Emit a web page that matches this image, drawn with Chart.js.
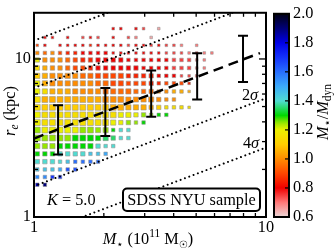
<!DOCTYPE html>
<html><head><meta charset="utf-8">
<script src="https://cdn.jsdelivr.net/npm/chart.js@4.4.1/dist/chart.umd.min.js"></script>
<style>
html,body{margin:0;padding:0;background:#fff;overflow:hidden}
#wrap{position:relative;width:334px;height:250px;background:#fff}
#wrap canvas{position:absolute;left:0;top:0}
</style></head><body>
<div id="wrap"><canvas id="main" width="334" height="250"></canvas><canvas id="cbar" width="334" height="250"></canvas></div>
<script>
// ---------------- data ----------------
// grid columns: stellar mass (1e11 Msun)
const colMass = [1.033,1.114,1.201,1.295,1.397,1.506,1.624,1.751,1.888,2.036,2.195,2.367,2.552,2.751,2.967,3.199,3.449,3.719,4.010,4.323,4.662,5.026,5.420,5.844,6.301];
// grid rows: effective radius (kpc), top to bottom
const rowRadius = [15.56,13.68,12.2,10.92,9.86,8.77,7.82,7.01,6.23,5.54,4.94,4.43,3.96,3.55,3.16,2.81,2.51,2.24,2.00,1.79,1.60];
// M*/Mdyn code: index in this string -> 0.60 + 0.05*index ; '.' = empty cell
const ratioCodes = "0123456789ABCDEFGHIJKLMNOPQRS";
const ratioRows = [
  ".......... 44.43.1",
  ".44.4.343.4.32.1",
  "64.4444544 4434434332 .2",
  "878655 44444444444 3332322",
  "C8887655 4444444444 333 22",
  "B9887665 4444444444 333 22",
  "A9888877 66665555 444 333",
  "C9888888 77666665 5666 5",
  "CB999888 87777777 8899 9",
  "B9999999 98888888 888",
  "BAAAAAAA AA999999 ABBB B",
  "CBBBBBBB BBBCCCDD EE",
  "CBBBBBBB BBCCDDE",
  "DCCCCCDD DDEGG",
  "DDDDDEEE EFFGG",
  "DDDEEEEE GGG",
  "EEEGGGGH HI",
  "GGGGHKKK K",
  "HHHILL",
  "JJMM",
  "PQ"
];
// number-density class of each cell (1 = few ... 5 = many)
const sizeRows = [
  "1111111111 1111111",
  "1111111111111111",
  "1111111111 1111111111 11",
  "222222 22221111111 1111111",
  "33333333 3333222222 222 11",
  "33333333 3333332222 222 11",
  "44444444 44443333 222 111",
  "44444444 44443333 2222 1",
  "44444444 44444333 2222 1",
  "55555555 55554444 322",
  "55555555 55554443 3222 1",
  "55555555 55544332 22",
  "55555555 5543322",
  "55555555 44222",
  "55555555 44322",
  "44444444 322",
  "33333332 22",
  "33322222 2",
  "222222",
  "2222",
  "22"
];
// best-fit relation and +-2, +-4 sigma lines
const fitMass = [1.0, 9.42];
const fitRadius = [3.14, 10.9];
const sigmaMass = [1, 10];
const plus4Radius = [13.06, 47.0];
const plus2Radius = [6.56, 23.6];
const minus2Radius = [1.567, 5.64];
const minus4Radius = [0.766, 2.75];
// binned error bars
const binMass = [1.27, 2.03, 3.2, 5.05, 7.96];
const binLow  = [2.49, 3.25, 4.31, 5.54, 7.14];
const binHigh = [5.10, 6.56, 8.45, 10.88, 14.0];
// tick labels
const xTickLabels = [1, 10];
const yTickLabels = [1, 10];
const cbarMin = 0.6, cbarMax = 2.0, cbarStep = 0.2;

// ---------------- styling helpers ----------------
const SERIF = "'Liberation Serif','Times New Roman',serif";
const cmapStops = [
 [0.60,[236,216,216]],[0.70,[255,120,120]],[0.80,[240,0,0]],[0.90,[255,70,0]],[1.00,[255,140,0]],
 [1.10,[255,205,0]],[1.20,[235,240,0]],[1.25,[150,230,0]],[1.30,[0,215,0]],[1.40,[80,220,210]],
 [1.50,[60,170,250]],[1.60,[40,110,255]],[1.70,[20,50,250]],[1.80,[0,0,230]],[1.90,[0,0,120]],[2.00,[0,0,20]]];
function cmap(v){
  if (v <= cmapStops[0][0]) return 'rgb('+cmapStops[0][1].join(',')+')';
  for (let i=1;i<cmapStops.length;i++){
    if (v <= cmapStops[i][0]){
      const [v0,c0]=cmapStops[i-1],[v1,c1]=cmapStops[i];
      const t=(v-v0)/(v1-v0);
      return 'rgb('+c0.map((c,k)=>Math.round(c+(c1[k]-c)*t)).join(',')+')';
    }
  }
  return 'rgb('+cmapStops[cmapStops.length-1][1].join(',')+')';
}
const sideOf = [0,2.6,3.5,4.4,5.2,5.9];

function drawRich(ctx, parts, x, y, size, align, rot){
  let total=0;
  const m=parts.map(p=>{
    const sz=size*(p.scale||1);
    const f=(p.italic?'italic ':'')+sz+'px '+(p.family||SERIF);
    ctx.font=f;
    const w=ctx.measureText(p.t).width;
    const dx=(p.dx||0)*size;
    total+=w+dx;
    return {f,w,dx,dy:(p.dy||0)*size};
  });
  ctx.save();
  ctx.translate(x,y);
  if (rot) ctx.rotate(rot);
  ctx.textAlign='left'; ctx.textBaseline='alphabetic'; ctx.fillStyle='#000';
  let cx = align==='center' ? -total/2 : 0;
  parts.forEach((p,i)=>{ cx+=m[i].dx; ctx.font=m[i].f; ctx.fillText(p.t,cx,m[i].dy); cx+=m[i].w; });
  ctx.restore();
}

// ---------------- build datasets ----------------
const cells=[];
ratioRows.forEach((row,i)=>{
  const r=row.replace(/ /g,''), s=sizeRows[i].replace(/ /g,'');
  for (let j=0;j<r.length;j++){
    const c=r[j]; if (c==='.') continue;
    cells.push({x:colMass[j], y:rowRadius[i], v:cbarMin+0.05*ratioCodes.indexOf(c), s:+s[j]||1});
  }
});
const pairs=(xs,ys)=>xs.map((x,i)=>({x,y:ys[i]}));
const dotted={type:'line',showLine:true,borderColor:'#000',borderWidth:2,borderDash:[0.01,4.6],borderCapStyle:'round',pointRadius:0,order:1,fill:false};
const datasets=[];
binMass.forEach((m,i)=>{
  datasets.push({type:'line',data:[{x:m,y:binLow[i]},{x:m,y:binHigh[i]}],showLine:true,borderColor:'#000',borderWidth:2,
    pointStyle:'line',pointRadius:5,pointBorderWidth:2,pointBorderColor:'#000',order:0});
});
datasets.push({type:'line',data:pairs(fitMass,fitRadius),showLine:true,borderColor:'#000',borderWidth:2.5,borderDash:[10,6],pointRadius:0,order:1});
datasets.push(Object.assign({data:pairs(sigmaMass,plus4Radius)},dotted));
datasets.push(Object.assign({data:pairs(sigmaMass,plus2Radius)},dotted));
datasets.push(Object.assign({data:pairs(sigmaMass,minus2Radius)},dotted));
datasets.push(Object.assign({data:pairs(sigmaMass,minus4Radius)},dotted));
datasets.push({type:'scatter',data:cells,pointStyle:'rect',order:2,
  pointRadius:c=>sideOf[c.raw.s]/Math.SQRT2,
  backgroundColor:c=>cmap(c.raw.v),
  borderColor:'rgba(150,150,150,0.75)',borderWidth:0.8});

const isNice=v=>{const e=Math.floor(Math.log10(v)+1e-9);const mm=v/Math.pow(10,e);return Math.abs(mm-Math.round(mm))<1e-6;};

const mainDeco={
  id:'mainDeco',
  afterDatasetsDraw(chart){
    const {ctx,chartArea:a,scales:{x,y}}=chart;
    ctx.save();
    // legend-like box
    ctx.beginPath();
    if (ctx.roundRect) ctx.roundRect(123,188.5,137,22.5,4); else ctx.rect(123,188.5,137,22.5);
    ctx.fillStyle='#fff'; ctx.fill();
    ctx.lineWidth=2; ctx.strokeStyle='#000'; ctx.stroke();
    ctx.font='16.3px '+SERIF; ctx.fillStyle='#000'; ctx.textAlign='center'; ctx.textBaseline='alphabetic';
    ctx.fillText('SDSS NYU sample',191.5,204.5);
    // ticks
    ctx.lineWidth=1.3; ctx.strokeStyle='#000';
    const ln=(x1,y1,x2,y2)=>{ctx.beginPath();ctx.moveTo(x1,y1);ctx.lineTo(x2,y2);ctx.stroke();};
    x.ticks.forEach(t=>{ if(!isNice(t.value)) return; const px=x.getPixelForValue(t.value);
      const L=xTickLabels.includes(t.value)?7:4; ln(px,a.bottom,px,a.bottom-L); ln(px,a.top,px,a.top+L); });
    y.ticks.forEach(t=>{ if(!isNice(t.value)) return; const py=y.getPixelForValue(t.value);
      const L=yTickLabels.includes(t.value)?7:4; ln(a.left,py,a.left+L,py); ln(a.right,py,a.right-L,py); });
    // frame
    ctx.lineWidth=2; ctx.strokeRect(a.left,a.top,a.right-a.left,a.bottom-a.top);
    ctx.restore();
  },
  afterDraw(chart){
    const ctx=chart.ctx;
    const S=16.3;
    drawRich(ctx,[{t:'K',italic:true},{t:' = 5.0'}],47,205,S,'left');
    drawRich(ctx,[{t:'2'},{t:'σ',italic:true}],250,100,S,'center');
    drawRich(ctx,[{t:'4'},{t:'σ',italic:true}],251,148,S,'center');
    drawRich(ctx,[{t:'M',italic:true},{t:'⋆',scale:0.7,dy:0.22,family:'DejaVu Sans'},{t:' (10'},{t:'11',scale:0.7,dy:-0.42},{t:' M'},{t:'☉',scale:0.62,dy:0.25,family:'DejaVu Sans'},{t:')'}],148,244,S,'center');
    drawRich(ctx,[{t:'r',italic:true},{t:'e',italic:true,scale:0.7,dy:0.22},{t:' (kpc)'}],14.5,111,S,'center',-Math.PI/2);
  }
};

new Chart(document.getElementById('main'),{
  type:'scatter',
  data:{datasets},
  options:{
    responsive:false,animation:false,devicePixelRatio:1,
    layout:{padding:{left:0,top:5,right:68,bottom:0}},
    plugins:{legend:{display:false},tooltip:{enabled:false}},
    scales:{
      x:{type:'logarithmic',min:1,max:10,
        grid:{display:false,drawTicks:false},border:{display:false},
        ticks:{autoSkip:false,maxRotation:0,padding:1,color:'#000',font:{family:SERIF,size:16.3},
          callback:v=>xTickLabels.includes(v)?String(v):''},
        afterFit:s=>{s.height=33;}},
      y:{type:'logarithmic',min:1,max:19.6,
        grid:{display:false,drawTicks:false},border:{display:false},
        ticks:{autoSkip:false,padding:3,color:'#000',font:{family:SERIF,size:16.3},
          callback:v=>yTickLabels.includes(v)?String(v):''},
        afterFit:s=>{s.width=34;}}
    }
  },
  plugins:[mainDeco]
});

// ---------------- colour bar ----------------
const cbarDeco={
  id:'cbarDeco',
  afterDraw(chart){
    const {ctx,chartArea:a,scales:{y}}=chart;
    ctx.save();
    ctx.strokeStyle='#000'; ctx.lineWidth=1.2;
    y.ticks.forEach(t=>{const py=y.getPixelForValue(t.value);ctx.beginPath();ctx.moveTo(a.right,py);ctx.lineTo(a.right-4,py);ctx.stroke();});
    ctx.lineWidth=2; ctx.strokeRect(a.left,a.top,a.right-a.left,a.bottom-a.top);
    ctx.restore();
    drawRich(ctx,[{t:'M',italic:true},{t:'⋆',scale:0.7,dy:0.22,family:'DejaVu Sans'},{t:'/'},{t:'M',italic:true},{t:'dyn',scale:0.7,dy:0.22}],327.5,112,16.3,'center',-Math.PI/2);
  }
};
new Chart(document.getElementById('cbar'),{
  type:'bar',
  data:{labels:['c'],datasets:[{data:[[cbarMin,cbarMax]],barPercentage:1,categoryPercentage:1,borderWidth:0,
    backgroundColor:c=>{const ch=c.chart,a=ch.chartArea;if(!a)return '#fff';
      const g=ch.ctx.createLinearGradient(0,a.bottom,0,a.top);
      for(let k=0;k<=70;k++){const v=cbarMin+(cbarMax-cbarMin)*k/70;g.addColorStop(k/70,cmap(v));}
      return g;}}]},
  options:{
    responsive:false,animation:false,devicePixelRatio:1,
    layout:{padding:{left:274,top:5,right:0,bottom:33}},
    plugins:{legend:{display:false},tooltip:{enabled:false}},
    scales:{
      x:{display:false},
      y:{position:'right',min:cbarMin,max:cbarMax,
        grid:{display:false,drawTicks:false},border:{display:false},
        ticks:{stepSize:cbarStep,padding:4,color:'#000',font:{family:SERIF,size:16.3},callback:v=>v.toFixed(1)},
        afterFit:s=>{s.width=45;}}
    }
  },
  plugins:[cbarDeco]
});
</script></body></html>
